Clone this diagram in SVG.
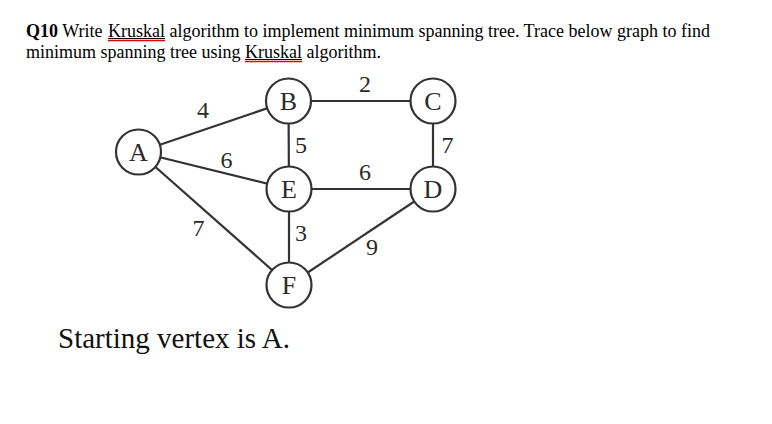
<svg xmlns="http://www.w3.org/2000/svg" width="772" height="424" viewBox="0 0 772 424">
<style>
.t{font-family:"Liberation Serif","Times New Roman",serif;font-size:18px;fill:#000}
.b{font-weight:bold}
.ul{stroke:#000;stroke-width:1}
.red{stroke:#e00000;stroke-width:1.5}
.e{stroke:#333;stroke-width:2.2;fill:none}
.n circle{fill:#fff;stroke:#333;stroke-width:2.2}
.n text{font-size:26px}
.n text,.w{font-family:"Liberation Serif","Times New Roman",serif;fill:#2a2a2a;text-anchor:middle}
.w{font-size:24px}
.s{font-family:"Liberation Serif","Times New Roman",serif;font-size:29px;fill:#111}
</style>
<rect width="772" height="424" fill="#fff"/>
<g id="header">
<text class="t" x="26" y="37"><tspan class="b">Q10</tspan> Write <tspan x="108">Kruskal</tspan> algorithm to implement minimum spanning tree. Trace below graph to find</text>
<text class="t" x="26" y="58">minimum spanning tree using <tspan x="245">Kruskal</tspan> algorithm.</text>
<line class="ul" x1="108" y1="38.5" x2="165" y2="38.5"/>
<line class="red" x1="108" y1="40.5" x2="165" y2="40.5"/>
<line class="ul" x1="245" y1="59.5" x2="302" y2="59.5"/>
<line class="red" x1="245" y1="61.5" x2="302" y2="61.5"/>
</g>
<g id="connectors">
<line class="e" x1="138.5" y1="152" x2="288.5" y2="101"/>
<line class="e" x1="138.5" y1="152" x2="289" y2="189"/>
<line class="e" x1="138.5" y1="152" x2="289" y2="285"/>
<line class="e" x1="288.5" y1="101" x2="433" y2="101"/>
<line class="e" x1="288.5" y1="101" x2="289" y2="189"/>
<line class="e" x1="433" y1="101" x2="433" y2="189"/>
<line class="e" x1="289" y1="189" x2="433" y2="189"/>
<line class="e" x1="289" y1="189" x2="289" y2="285"/>
<line class="e" x1="433" y1="189" x2="289" y2="285"/>
<text class="w" x="203" y="118">4</text>
<text class="w" x="365" y="92">2</text>
<text class="w" x="301" y="153">5</text>
<text class="w" x="447.5" y="153">7</text>
<text class="w" x="226.5" y="168">6</text>
<text class="w" x="365" y="180">6</text>
<text class="w" x="198.5" y="236">7</text>
<text class="w" x="301" y="241">3</text>
<text class="w" x="372" y="255">9</text>
</g>
<g id="A" class="n"><circle cx="138.5" cy="152" r="22.5"/><text x="138.5" y="160.5">A</text></g>
<g id="B" class="n"><circle cx="288.5" cy="101" r="22.5"/><text x="288.5" y="109.5">B</text></g>
<g id="C" class="n"><circle cx="433" cy="101" r="22.5"/><text x="433" y="109.5">C</text></g>
<g id="D" class="n"><circle cx="433" cy="189" r="22.5"/><text x="433" y="197.5">D</text></g>
<g id="E" class="n"><circle cx="289" cy="189" r="22.5"/><text x="289" y="197.5">E</text></g>
<g id="F" class="n"><circle cx="289" cy="285" r="22.5"/><text x="289" y="293.5">F</text></g>
<text class="s" x="58" y="348">Starting vertex is A.</text>
</svg>
